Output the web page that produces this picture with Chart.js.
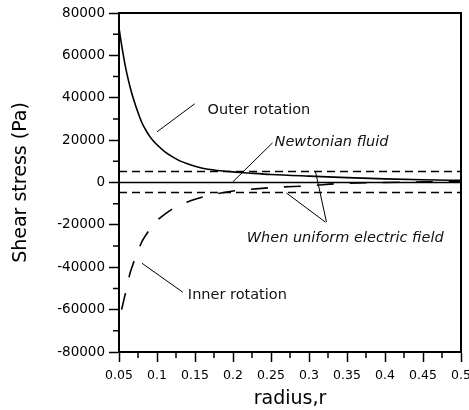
<!DOCTYPE html>
<html>
<head>
<meta charset="utf-8">
<script src="https://cdn.jsdelivr.net/npm/chart.js@4/dist/chart.umd.min.js"></script>
<style>
  html, body { margin: 0; padding: 0; background: #fff; }
  #wrap { width: 469px; height: 410px; }
</style>
</head>
<body>
<div id="wrap"><canvas id="shearChart"></canvas></div>
<script>
// values
const outerR   = [0.05, 0.0525, 0.055, 0.0575, 0.06, 0.065, 0.07, 0.075, 0.08, 0.085, 0.09, 0.095, 0.1, 0.11, 0.12, 0.13, 0.14, 0.15, 0.165, 0.18, 0.2, 0.22, 0.25, 0.3, 0.35, 0.4, 0.45, 0.5];
const outerTau = [73000, 67000, 61500, 56500, 52000, 44500, 38300, 33000, 28300, 24900, 22000, 19700, 17800, 14600, 12200, 10200, 8800, 7700, 6400, 5700, 5000, 4500, 3800, 3000, 2300, 1700, 1300, 1000];

const innerR   = [0.0535, 0.056, 0.06, 0.064, 0.068, 0.072, 0.076, 0.08, 0.085, 0.09, 0.1, 0.11, 0.125, 0.145, 0.17, 0.2, 0.23, 0.26, 0.3, 0.34, 0.4, 0.45, 0.5];
const innerTau = [-60000, -56000, -50000, -43500, -39000, -35000, -31300, -28000, -25000, -22300, -18000, -15000, -11500, -8500, -6000, -4000, -3000, -2200, -1600, -500, 0, 300, 500];

const flatR      = [0.05, 0.5];
const newtonTau  = [0, 0];
const fieldUpper = [5200, 5200];
const fieldLower = [-4700, -4700];

const xMin = 0.05, xMax = 0.5, xStep = 0.05;
const yMin = -80000, yMax = 80000, yStep = 20000;

// labels with leader lines, in data units
const notes = [
  { text: 'Outer rotation', r: 0.1666, tau: 34300, italic: false, lines: [[0.0999, 23900, 0.1497, 37160]] },
  { text: 'Newtonian fluid', r: 0.2547, tau: 19170, italic: true, lines: [[0.1996, 240, 0.252, 18700]] },
  { text: 'When uniform electric field', r: 0.218, tau: -26270, italic: true,
    lines: [[0.2704, -4970, 0.3216, -18700], [0.3085, 5200, 0.323, -18700]] },
  { text: 'Inner rotation', r: 0.1406, tau: -53250, italic: false, lines: [[0.0802, -38100, 0.134, -51800]] }
];

const pts = (xs, ys) => xs.map((x, i) => ({ x: x, y: ys[i] }));
const FONT = "'DejaVu Sans', sans-serif";

const extras = {
  id: 'extras',
  afterDatasetsDraw(chart) {
    const { ctx, chartArea: a, scales: { x, y } } = chart;
    ctx.save();
    ctx.strokeStyle = '#000';
    // frame
    ctx.lineWidth = 2;
    ctx.strokeRect(a.left, a.top, a.right - a.left, a.bottom - a.top);
    // minor ticks halfway between major ones
    ctx.lineWidth = 1.5;
    ctx.beginPath();
    const yt = y.ticks.map(t => t.value);
    for (let i = 0; i < yt.length - 1; i++) {
      const py = y.getPixelForValue((yt[i] + yt[i + 1]) / 2);
      ctx.moveTo(a.left - 6, py); ctx.lineTo(a.left, py);
    }
    const xt = x.ticks.map(t => t.value);
    for (let i = 0; i < xt.length - 1; i++) {
      const px = x.getPixelForValue((xt[i] + xt[i + 1]) / 2);
      ctx.moveTo(px, a.bottom); ctx.lineTo(px, a.bottom + 6);
    }
    ctx.stroke();
    // annotations
    ctx.lineWidth = 1;
    ctx.fillStyle = '#111';
    ctx.textBaseline = 'middle';
    ctx.textAlign = 'left';
    notes.forEach(n => {
      ctx.beginPath();
      n.lines.forEach(l => {
        ctx.moveTo(x.getPixelForValue(l[0]), y.getPixelForValue(l[1]));
        ctx.lineTo(x.getPixelForValue(l[2]), y.getPixelForValue(l[3]));
      });
      ctx.stroke();
      ctx.font = (n.italic ? 'italic ' : '') + '14.5px ' + FONT;
      ctx.fillText(n.text, x.getPixelForValue(n.r), y.getPixelForValue(n.tau));
    });
    ctx.restore();
  }
};

new Chart(document.getElementById('shearChart'), {
  type: 'scatter',
  data: {
    datasets: [
      { label: 'Outer rotation', data: pts(outerR, outerTau), showLine: true, borderColor: '#000', borderWidth: 1.6, pointRadius: 0, cubicInterpolationMode: 'monotone' },
      { label: 'Inner rotation', data: pts(innerR, innerTau), showLine: true, borderColor: '#000', borderWidth: 1.6, borderDash: [17, 16], pointRadius: 0, cubicInterpolationMode: 'monotone' },
      { label: 'Newtonian fluid', data: pts(flatR, newtonTau), showLine: true, borderColor: '#000', borderWidth: 1.3, pointRadius: 0 },
      { label: 'Field upper', data: pts(flatR, fieldUpper), showLine: true, borderColor: '#000', borderWidth: 1.6, borderDash: [8, 5], pointRadius: 0 },
      { label: 'Field lower', data: pts(flatR, fieldLower), showLine: true, borderColor: '#000', borderWidth: 1.6, borderDash: [8, 5], pointRadius: 0 }
    ]
  },
  options: {
    responsive: true,
    maintainAspectRatio: false,
    animation: false,
    layout: { padding: { top: 13, right: 8, left: 0, bottom: 0 } },
    plugins: { legend: { display: false }, tooltip: { enabled: false } },
    scales: {
      x: {
        type: 'linear', min: xMin, max: xMax,
        afterFit: s => { s.height = 58; s.paddingRight = 0; s.paddingLeft = 0; },
        grid: { drawOnChartArea: false, tickLength: 10, tickColor: '#000', tickWidth: 1.5 },
        border: { display: true, color: '#000', width: 2 },
        ticks: { stepSize: xStep, color: '#000', padding: 6, maxRotation: 0, autoSkip: false,
                 font: { family: FONT, size: 12.5 },
                 callback: v => String(Number(v.toFixed(2))) },
        title: { display: true, text: 'radius,r', color: '#000', font: { family: FONT, size: 19 }, padding: { top: 0, bottom: 0 } }
      },
      y: {
        type: 'linear', min: yMin, max: yMax,
        afterFit: s => { s.width = 119; s.paddingTop = 0; s.paddingBottom = 0; },
        grid: { drawOnChartArea: false, tickLength: 10, tickColor: '#000', tickWidth: 1.5 },
        border: { display: true, color: '#000', width: 2 },
        ticks: { stepSize: yStep, color: '#000', padding: 4, autoSkip: false,
                 font: { family: FONT, size: 13.5 },
                 callback: v => String(v) },
        title: { display: true, text: 'Shear stress (Pa)', color: '#000', font: { family: FONT, size: 19 }, padding: { top: 10, bottom: 0 } }
      }
    }
  },
  plugins: [extras]
});
</script>
</body>
</html>
